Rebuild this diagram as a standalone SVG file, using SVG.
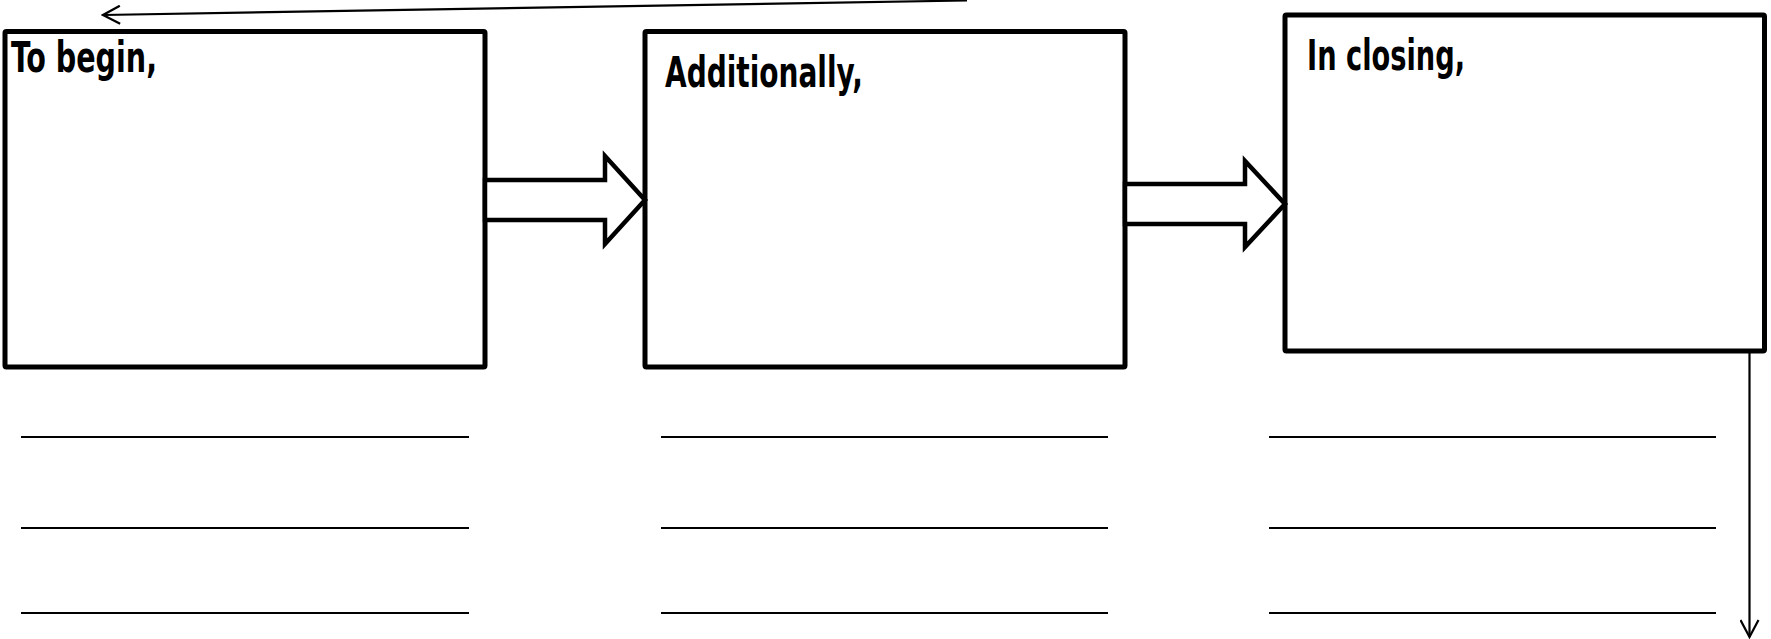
<svg xmlns="http://www.w3.org/2000/svg" width="1771" height="639" viewBox="0 0 1771 639">
<style>
.box{fill:#fff;stroke:#000;stroke-width:5;stroke-linejoin:round}
.blk{fill:#fff;stroke:#000;stroke-width:4.5;stroke-linejoin:miter}
.lbl{font-family:"Liberation Sans Narrow","DejaVu Sans Condensed","Liberation Sans",sans-serif;font-weight:bold;font-size:42px;fill:#000}
.rule{stroke:#000;stroke-width:2.2}
.thin{fill:none;stroke:#000;stroke-width:2.2}
</style>
<defs>
<marker id="open" viewBox="0 0 20 20" refX="18" refY="10" markerWidth="20" markerHeight="20" markerUnits="userSpaceOnUse" orient="auto">
<path d="M1,1 L18,10 L1,19" fill="none" stroke="#000" stroke-width="2.2"/>
</marker>
</defs>
<rect width="1771" height="639" fill="#fff"/>
<g id="node-begin">
<rect class="box" x="5" y="31.5" width="480" height="335.5" rx="1.5"/>
<text class="lbl" x="11" y="72" textLength="146" lengthAdjust="spacingAndGlyphs">To begin,</text>
</g>
<g id="node-additionally">
<rect class="box" x="645" y="31.5" width="480" height="335.5" rx="1.5"/>
<text class="lbl" x="665" y="87" textLength="198" lengthAdjust="spacingAndGlyphs">Additionally,</text>
</g>
<g id="node-closing">
<rect class="box" x="1285" y="15" width="479.5" height="336" rx="1.5"/>
<text class="lbl" x="1307" y="70" textLength="158" lengthAdjust="spacingAndGlyphs">In closing,</text>
</g>
<g id="lines-begin">
<line class="rule" x1="21" y1="437" x2="469" y2="437"/>
<line class="rule" x1="21" y1="528" x2="469" y2="528"/>
<line class="rule" x1="21" y1="613" x2="469" y2="613"/>
</g>
<g id="lines-additionally">
<line class="rule" x1="661" y1="437" x2="1108" y2="437"/>
<line class="rule" x1="661" y1="528" x2="1108" y2="528"/>
<line class="rule" x1="661" y1="613" x2="1108" y2="613"/>
</g>
<g id="lines-closing">
<line class="rule" x1="1269" y1="437" x2="1716" y2="437"/>
<line class="rule" x1="1269" y1="528" x2="1716" y2="528"/>
<line class="rule" x1="1269" y1="613" x2="1716" y2="613"/>
</g>
<g id="connectors">
<polygon class="blk" points="485,180 605,180 605,156 645,200 605,244 605,220 485,220"/>
<polygon class="blk" points="1125,184 1245,184 1245,161 1285,204 1245,247 1245,224 1125,224"/>
<line class="thin" x1="967" y1="0.5" x2="103" y2="15" marker-end="url(#open)"/>
<line class="thin" x1="1749.5" y1="351" x2="1749.5" y2="637" marker-end="url(#open)"/>
</g>
</svg>
